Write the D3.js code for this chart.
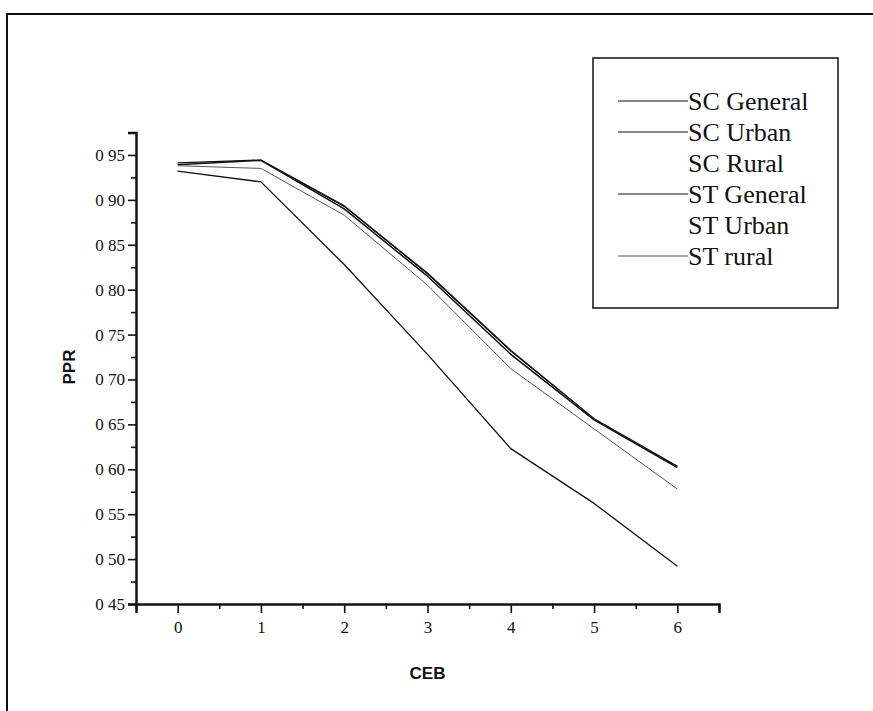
<!DOCTYPE html>
<html>
<head>
<meta charset="utf-8">
<script src="https://cdn.jsdelivr.net/npm/d3@7"></script>
<style>
  body { margin: 0; background: #fff; }
  svg { display: block; }
</style>
</head>
<body>
<script>
// data
var ceb = [0, 1, 2, 3, 4, 5, 6];
var scGeneral = [0.941, 0.944, 0.893, 0.818, 0.732, 0.656, 0.603];
var scUrban   = [0.932, 0.920, 0.828, 0.728, 0.623, 0.562, 0.492];
var scRural   = [0.940, 0.943, 0.891, 0.816, 0.730, 0.655, 0.602];
var stGeneral = [0.939, 0.944, 0.890, 0.815, 0.728, 0.655, 0.602];
var stUrban   = [0.938, 0.940, 0.886, 0.810, 0.720, 0.650, 0.590];
var stRural   = [0.938, 0.935, 0.883, 0.805, 0.712, 0.645, 0.578];
var seriesNames = ["SC General", "SC Urban", "SC Rural", "ST General", "ST Urban", "ST rural"];
var yTicks = [0.45, 0.50, 0.55, 0.60, 0.65, 0.70, 0.75, 0.80, 0.85, 0.90, 0.95];

var width = 873;
var height = 711;

var series = [
    {name: seriesNames[0], values: scGeneral, color: "#111", w: 1.8, show: true},
    {name: seriesNames[1], values: scUrban,   color: "#111", w: 1.3, show: true},
    {name: seriesNames[2], values: scRural,   color: "#f4f4f4", w: 1, show: false},
    {name: seriesNames[3], values: stGeneral, color: "#111", w: 1.5, show: true},
    {name: seriesNames[4], values: stUrban,   color: "#f4f4f4", w: 1, show: false},
    {name: seriesNames[5], values: stRural,   color: "#555", w: 1, show: true}
];

var svg = d3.select("body")
    .append("svg")
    .attr("width", width)
    .attr("height", height);

// outer frame (runs off the page on the right and bottom)
svg.append("rect")
    .attr("x", 7)
    .attr("y", 14)
    .attr("width", width + 20)
    .attr("height", height + 20)
    .attr("fill", "none")
    .attr("stroke", "#111")
    .attr("stroke-width", 2);

var x = d3.scaleLinear().domain([-0.5, 6.5]).range([136, 719]);
var y = d3.scaleLinear().domain([0.45, 0.975]).range([604, 132.5]);

var fmt = function(d){ return d3.format(".2f")(d).replace(".", " "); };

// y axis
svg.append("g")
    .attr("transform", "translate(" + x.range()[0] + ",0)")
    .call(d3.axisLeft(y).tickValues(yTicks).tickFormat(fmt).tickSize(8).tickPadding(3));
svg.append("g")
    .attr("transform", "translate(" + x.range()[0] + ",0)")
    .call(d3.axisLeft(y).tickValues(d3.range(0.475, 0.98, 0.05)).tickFormat("").tickSize(5))
    .select(".domain").remove();

// x axis
svg.append("g")
    .attr("transform", "translate(0," + y.range()[0] + ")")
    .call(d3.axisBottom(x).tickValues(ceb).tickFormat(d3.format("d")).tickSize(9).tickPadding(8));
svg.append("g")
    .attr("transform", "translate(0," + y.range()[0] + ")")
    .call(d3.axisBottom(x).tickValues(d3.range(-0.5, 6.6, 1)).tickFormat("").tickSize(5))
    .select(".domain").remove();

svg.selectAll(".domain").attr("stroke", "#111").attr("stroke-width", 2.5);
svg.selectAll(".tick line").attr("stroke", "#111").attr("stroke-width", 1.6);
svg.selectAll(".tick text")
    .attr("font-family", "'Liberation Serif', 'Times New Roman', serif")
    .attr("font-size", 17)
    .attr("fill", "#111");

// axis titles
svg.append("text")
    .attr("x", (x.range()[0] + x.range()[1]) / 2)
    .attr("y", 679)
    .attr("text-anchor", "middle")
    .attr("font-family", "'Liberation Sans', Arial, sans-serif")
    .attr("font-size", 17)
    .attr("font-weight", "bold")
    .attr("fill", "#111")
    .text("CEB");

svg.append("text")
    .attr("transform", "translate(75,367) rotate(-90)")
    .attr("text-anchor", "middle")
    .attr("font-family", "'Liberation Sans', Arial, sans-serif")
    .attr("font-size", 17)
    .attr("font-weight", "bold")
    .attr("fill", "#111")
    .text("PPR");

// lines
var line = d3.line()
    .x(function(d, i){ return x(ceb[i]); })
    .y(function(d){ return y(d); });

svg.append("g")
    .selectAll("path")
    .data(series)
    .enter()
    .append("path")
    .attr("d", function(d){ return line(d.values); })
    .attr("fill", "none")
    .attr("stroke", function(d){ return d.color; })
    .attr("stroke-width", function(d){ return d.w; })
    .attr("stroke-linejoin", "round");

// legend
var legend = svg.append("g");
legend.append("rect")
    .attr("x", 593)
    .attr("y", 58)
    .attr("width", 245)
    .attr("height", 250)
    .attr("fill", "#fff")
    .attr("stroke", "#111")
    .attr("stroke-width", 1.5);

var items = legend.selectAll(".item")
    .data(series)
    .enter()
    .append("g")
    .attr("transform", function(d, i){ return "translate(0," + (101 + i * 31) + ")"; });

items.filter(function(d){ return d.show; })
    .append("line")
    .attr("x1", 618)
    .attr("x2", 688)
    .attr("stroke", function(d){ return d.color; })
    .attr("stroke-width", 1.2);

items.append("text")
    .attr("x", 688)
    .attr("dy", "0.35em")
    .attr("font-family", "'Liberation Serif', 'Times New Roman', serif")
    .attr("font-size", 26)
    .attr("fill", "#111")
    .text(function(d){ return d.name; });
</script>
</body>
</html>
